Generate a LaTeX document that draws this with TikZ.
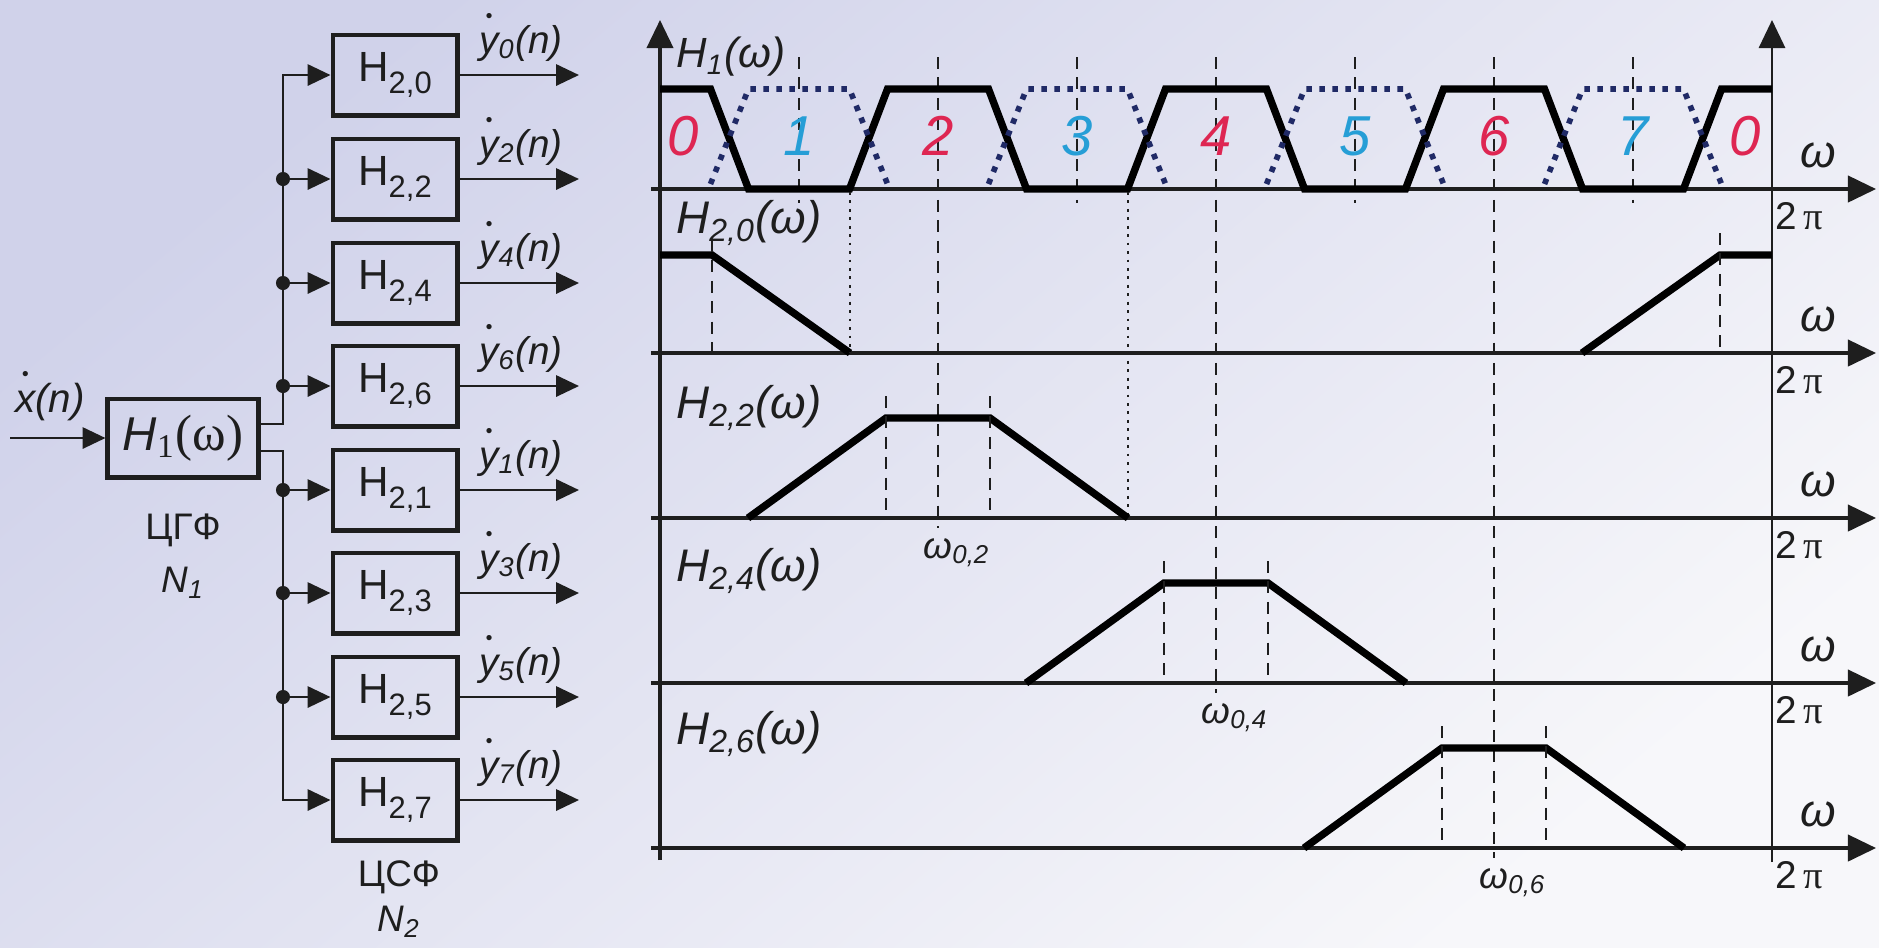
\documentclass[tikz,border=0pt]{standalone}
\usepackage{fontspec}
\setmainfont{Liberation Sans}
\newfontfamily\seriffont{Liberation Serif}
\usetikzlibrary{arrows.meta,positioning}

\definecolor{bgdark}{RGB}{208,210,234}
\definecolor{bglight}{RGB}{247,247,250}
\definecolor{chred}{RGB}{222,38,82}
\definecolor{chblue}{RGB}{38,158,214}
\definecolor{oddblue}{RGB}{32,42,102}
\definecolor{ink}{RGB}{30,30,30}

\newcommand{\fs}[1]{\fontsize{#1}{#1}\selectfont}
\newcommand{\dt}[1]{\ooalign{#1\cr\hidewidth\raisebox{0.78em}{\fontsize{5.5}{5.5}\selectfont\textbullet}\hidewidth\cr}}
\newcommand{\bsub}[1]{\raisebox{-0.5ex}{\fs{8.8}#1}}

\begin{document}
\begin{tikzpicture}[x=0.01cm, y=-0.01cm, font=\fs{10}, text=ink,
  blk/.style={draw=ink, line width=1.4pt, minimum width=1.24cm, minimum height=0.8cm, inner sep=0pt, font=\fs{12}},
  con/.style={draw=ink, line width=0.75pt},
  arr/.style={con, -{Triangle[length=6.5pt,width=6pt]}},
  ax/.style={draw=ink, line width=0.9pt, -{Triangle[length=8pt,width=7.5pt]}},
  resp/.style={draw=black, line width=2.1pt, line join=miter},
  oddresp/.style={draw=oddblue, line width=1.6pt, dash pattern=on 1.6pt off 2.1pt},
  cline/.style={draw=ink, line width=0.55pt, dash pattern=on 3.4pt off 2.4pt},
  bline/.style={draw=ink, line width=0.45pt, dash pattern=on 0.8pt off 1.6pt},
  lbl/.style={font=\fs{13}\itshape, anchor=west}]

% background
\shade[top color=bgdark, bottom color=bglight, shading angle=40] (0,0) rectangle (1879,947);
\useasboundingbox (0,0) rectangle (1879,947);

% filter bank
\node[blk, minimum width=1.5cm, minimum height=0.78cm, font=\fs{13.5}] (h1) at (183,438) {\textit{H}\textsubscript{\seriffont 1}{\seriffont\fs{14.5}(ω)}};
\coordinate (xin) at (10,438);
\draw[arr] (xin) -- (h1.west);
\node[font=\fs{11.5}\itshape] (xlab) at (50,402) {\dt{x}(n)};

\foreach \k/\yy in {0/75,2/179,4/283,6/386,1/490,3/593,5/697,7/800} {
  \node[blk] (h2\k) at (395,\yy) {H\bsub{2,\k}};
  \coordinate (bus\k) at (283,\yy);
  \coordinate (out\k) at (579,\yy);
  \draw[arr] (h2\k.east) -- (out\k);
  \node[font=\fs{11}\itshape] (y\k) at (521,\yy-32) {\dt{y}\textsubscript{\k}(n)};
}

% branches
\draw[arr] ([yshift=0.14cm]h1.east) -| (bus0) -- (h20.west);
\draw[arr] ([yshift=-0.13cm]h1.east) -| (bus7) -- (h27.west);
\foreach \k in {2,4,6,1,3,5} {
  \draw[arr] (bus\k) -- (h2\k.west);
  \fill[ink] (bus\k) circle[radius=2pt];
}

\node[font=\fs{10.5}] (cgf) at (183,530) {ЦГФ};
\node[font=\fs{10.5}\itshape] (n1) at (183,583) {N\textsubscript{1}};
\node[font=\fs{10.5}] (csf) at (399,877) {ЦСФ};
\node[font=\fs{10.5}\itshape] (n2) at (399,922) {N\textsubscript{2}};

% axes
\foreach \ay in {189,353,518,683,848} {
  \draw[ax] (651,\ay) -- (1876,\ay);
  \node[font=\fs{13}\itshape, anchor=base] at (1818,\ay-22) {ω};
  \node[font=\fs{11}, anchor=base] at (1799,\ay+40) {2\,{\seriffont π}};
}
\draw[ax] (660,860) -- (660,20);
\draw[ax, line width=0.6pt] (1772,862) -- (1772,20);

% channel centre lines
\foreach \cx in {799,1077,1355,1633} \draw[cline] (\cx,57) -- (\cx,203);
\foreach \cx/\ay in {938/518,1216/683,1494/848} \draw[cline] (\cx,57) -- (\cx,\ay+10);

% H1 response
\draw[resp] (660,89) -- (710.5,89) -- (748.5,189) -- (849.5,189) -- (887.5,89) -- (988.5,89) -- (1026.5,189) -- (1127.5,189) -- (1165.5,89) -- (1266.5,89) -- (1304.5,189) -- (1405.5,189) -- (1443.5,89) -- (1544.5,89) -- (1582.5,189) -- (1683.5,189) -- (1721.5,89) -- (1772,89);

% odd channels
\foreach \a in {710.5,988.5,1266.5,1544.5}
  \draw[oddresp] (\a,184) -- (\a+38,89) -- (\a+139,89) -- (\a+177,184);

% channel numbers
\foreach \n/\cx/\col in {0/683/chred,1/799/chblue,2/938/chred,3/1077/chblue,4/1216/chred,5/1355/chblue,6/1494/chred,7/1633/chblue,0/1745/chred}
  \node[font=\fs{16}\itshape, text=\col] at (\cx,136) {\n};

% H2 responses
\draw[resp] (660,255) -- (712,255) -- (850,353);
\draw[resp] (1582,353) -- (1720,255) -- (1772,255);
\draw[cline] (712,240) -- (712,353);
\draw[cline] (1720,233) -- (1720,353);
\draw[bline] (850,192) -- (850,353);
\draw[bline] (1128,192) -- (1128,518);

\foreach \cx/\ay/\k in {938/518/2,1216/683/4,1494/848/6} {
  \draw[resp] (\cx-190,\ay) -- (\cx-52,\ay-100) -- (\cx+52,\ay-100) -- (\cx+190,\ay);
  \draw[cline] (\cx-52,\ay-122) -- (\cx-52,\ay);
  \draw[cline] (\cx+52,\ay-122) -- (\cx+52,\ay);
  \node[font=\fs{10.5}\itshape, anchor=base] at (\cx,\ay+40) {ω\rlap{\textsubscript{0,\k}}};
}

% labels
\node[lbl, font=\fs{12}\itshape] at (664,57) {H\textsubscript{1}(ω)};
\foreach \k/\ly in {0/223,2/408,4/571,6/734}
  \node[lbl] at (664,\ly) {H\textsubscript{2,\k}(ω)};

\end{tikzpicture}
\end{document}
